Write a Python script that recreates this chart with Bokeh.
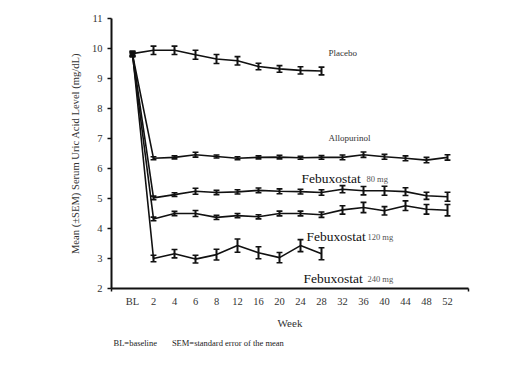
import math
from bokeh.plotting import figure
from bokeh.models import Range1d, FixedTicker, Label, Title
from bokeh.embed import file_html
from bokeh.resources import INLINE

weeks = ["BL", "2", "4", "6", "8", "12", "16", "20", "24", "28", "32", "36", "40", "44", "48", "52"]

placebo = [9.83, 9.94, 9.94, 9.79, 9.65, 9.59, 9.40, 9.32, 9.27, 9.25]
placebo_sem = [0.08, 0.14, 0.14, 0.15, 0.15, 0.14, 0.11, 0.11, 0.12, 0.13]

allopurinol = [9.80, 6.34, 6.37, 6.46, 6.40, 6.34, 6.37, 6.38, 6.36, 6.37, 6.37, 6.46, 6.39, 6.34, 6.28, 6.37]
allopurinol_sem = [0.06, 0.05, 0.05, 0.08, 0.05, 0.05, 0.05, 0.06, 0.05, 0.06, 0.08, 0.09, 0.08, 0.08, 0.09, 0.09]

feb80 = [9.82, 5.02, 5.13, 5.24, 5.20, 5.22, 5.27, 5.24, 5.23, 5.20, 5.31, 5.26, 5.26, 5.23, 5.09, 5.06]
feb80_sem = [0.06, 0.06, 0.06, 0.10, 0.07, 0.07, 0.08, 0.08, 0.08, 0.09, 0.12, 0.14, 0.15, 0.13, 0.12, 0.15]

feb120 = [9.78, 4.32, 4.50, 4.50, 4.37, 4.43, 4.39, 4.50, 4.50, 4.46, 4.62, 4.70, 4.59, 4.76, 4.64, 4.61]
feb120_sem = [0.06, 0.06, 0.07, 0.10, 0.07, 0.07, 0.07, 0.08, 0.08, 0.09, 0.14, 0.17, 0.14, 0.16, 0.16, 0.19]

feb240 = [9.85, 3.00, 3.16, 2.98, 3.13, 3.43, 3.19, 3.03, 3.43, 3.16]
feb240_sem = [0.06, 0.11, 0.14, 0.13, 0.18, 0.22, 0.20, 0.17, 0.20, 0.20]

SERIF = "Liberation Serif"
INK = "#111111"

p = figure(width=500, height=365, output_backend="svg", toolbar_location=None,
           x_range=Range1d(-1, 16), y_range=Range1d(2, 11),
           min_border_left=111, min_border_right=32, min_border_top=18, min_border_bottom=77)
p.outline_line_color = None
p.xgrid.visible = False
p.ygrid.visible = False
p.background_fill_color = "white"
p.border_fill_color = "white"

def draw(vals, sems):
    xs = list(range(len(vals)))
    p.line(xs, vals, line_color=INK, line_width=1.6)
    lo = [v - s for v, s in zip(vals, sems)]
    hi = [v + s for v, s in zip(vals, sems)]
    p.segment(xs, lo, xs, hi, line_color=INK, line_width=2)
    cw = 0.14
    p.segment([x - cw for x in xs], lo, [x + cw for x in xs], lo, line_color=INK, line_width=1.6)
    p.segment([x - cw for x in xs], hi, [x + cw for x in xs], hi, line_color=INK, line_width=1.6)

for vals, sems in [(placebo, placebo_sem), (allopurinol, allopurinol_sem), (feb80, feb80_sem),
                   (feb120, feb120_sem), (feb240, feb240_sem)]:
    draw(vals, sems)

# axes
xa = p.xaxis[0]
xa.ticker = FixedTicker(ticks=list(range(len(weeks))), minor_ticks=[-1, 16])
xa.major_label_overrides = {i: w for i, w in enumerate(weeks)}
xa.major_tick_out = 0
xa.major_tick_in = 0
xa.minor_tick_out = 3
xa.minor_tick_in = 0
xa.axis_line_width = 2
xa.axis_line_color = INK
xa.minor_tick_line_color = INK
xa.minor_tick_line_width = 1.5
xa.major_label_text_font = SERIF
xa.major_label_text_font_size = "10.5px"
xa.major_label_text_color = "#333333"
xa.major_label_standoff = 4
xa.axis_label = "Week"
xa.axis_label_text_font = SERIF
xa.axis_label_text_font_size = "11px"
xa.axis_label_text_font_style = "normal"
xa.axis_label_text_color = "#333333"
xa.axis_label_standoff = 7

ya = p.yaxis[0]
ya.ticker = FixedTicker(ticks=list(range(2, 12)), minor_ticks=[])
ya.major_tick_out = 4
ya.major_tick_in = 0
ya.major_tick_line_color = INK
ya.major_tick_line_width = 1.5
ya.axis_line_width = 2
ya.axis_line_color = INK
ya.major_label_text_font = SERIF
ya.major_label_text_font_size = "10.5px"
ya.major_label_text_color = "#333333"
ya.major_label_standoff = 5

ytitle = Title(text="Mean (\u00b1SEM) Serum Uric Acid Level (mg/dL)", align="center", offset=12,
               text_font=SERIF, text_font_size="10.6px", text_font_style="normal",
               text_color="#333333", standoff=15)
p.add_layout(ytitle, "left")

foot = Title(text="BL=baseline\u00a0\u00a0\u00a0\u00a0\u00a0\u00a0\u00a0SEM=standard error of the mean",
             align="left", offset=2, text_font=SERIF, text_font_size="8.5px",
             text_font_style="normal", text_color="#222222", standoff=8)
p.add_layout(foot, "below")

def lab(x, y, text, size, color="#222222"):
    p.add_layout(Label(x=x, y=y, text=text, text_font=SERIF, text_font_size=size,
                       text_color=color, text_align="left", text_baseline="middle"))

lab(9.33, 9.85, "Placebo", "9px", "#333333")
lab(9.33, 7.01, "Allopurinol", "9px", "#333333")
lab(8.05, 5.68, "Febuxostat", "13.5px", INK)
lab(11.14, 5.64, "80 mg", "8.5px", "#555555")
lab(8.29, 3.74, "Febuxostat", "13.5px", INK)
lab(11.19, 3.71, "120 mg", "8.5px", "#555555")
lab(8.14, 2.34, "Febuxostat", "13.5px", INK)
lab(11.19, 2.31, "240 mg", "8.5px", "#555555")

open("out.html", "w").write(file_html(p, INLINE))
